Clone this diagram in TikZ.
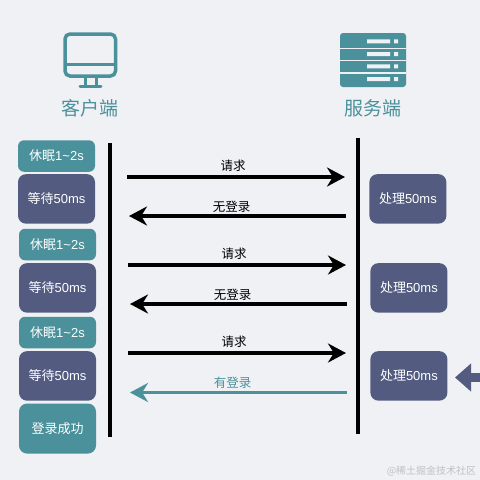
\documentclass[tikz,border=0pt]{standalone}
\usepackage{fontspec}
\setmainfont{Liberation Sans}
\newfontfamily\cjk{Noto Sans CJK SC}
\usetikzlibrary{positioning,arrows.meta}
\definecolor{Teal}{RGB}{74,145,155}
\definecolor{Slate}{RGB}{83,92,128}
\definecolor{Paper}{RGB}{239,241,244}
\definecolor{Mark}{RGB}{190,192,196}
\begin{document}
\begin{tikzpicture}[x=1pt,y=-1pt,
  box/.style={rounded corners=8pt,minimum width=77pt,inner sep=0pt,text=white,font=\fontsize{13}{15}\selectfont},
  rest/.style={box,rounded corners=6pt,fill=Teal,minimum height=31.5pt},
  work/.style={box,fill=Slate,minimum height=49.5pt},
  life/.style={line width=3.5pt},
  arr/.style={-{Stealth[length=18pt,width=19pt]},line width=3.8pt},
  back/.style={arr,Teal},
  lbl/.style={midway,above=3.5pt,xshift=-3pt,inner sep=0pt,font=\fontsize{12.5}{14}\selectfont\cjk},
  reply/.style={lbl,above=2pt,xshift=-3pt},
  title/.style={text=Teal,inner sep=0pt,font=\fontsize{19}{21}\selectfont\cjk}]
\useasboundingbox (0,0) rectangle (480,480);
\clip (0,0) rectangle (480,480);
\fill[Paper] (0,0) rectangle (480,480);
% client icon
\draw[Teal,line width=3.5pt,rounded corners=5pt] (65,34) rectangle (115.5,76);
\draw[Teal,line width=3pt] (65,64.5) -- (115.5,64.5);
\draw[Teal,line width=3pt] (85,76) -- (85,86) (96,76) -- (96,86);
\draw[Teal,line width=3pt,line cap=round] (80,86) -- (101,86);
% server icon
\fill[Teal,rounded corners=3pt] (340,33) rectangle (406,87);
\draw[Paper,line width=1.1pt] (340,48.2) -- (406,48.2) (340,60.7) -- (406,60.7) (340,73) -- (406,73);
\fill[Paper] (367,39.3) rectangle (390,43.3) (367,52) rectangle (390,56) (367,64.3) rectangle (390,68.3) (367,77) rectangle (390,81);
\fill[Paper] (394,39.3) rectangle (398,43.3) (394,52) rectangle (398,56) (394,64.3) rectangle (398,68.3) (394,77) rectangle (398,81);
\node[title] (client) at (90,108) {客户端};
\node[title] (server) at (373,108) {服务端};
% client column
\node[rest] (rest1) at (56.5,156) {{\cjk 休眠}1\textasciitilde 2s};
\node[work,below=2pt of rest1] (wait1) {{\cjk 等待}50ms};
\node[rest] (rest2) at (57.5,244.5) {{\cjk 休眠}1\textasciitilde 2s};
\node[work,below=2.5pt of rest2] (wait2) {{\cjk 等待}50ms};
\node[rest] (rest3) at (57.5,332.5) {{\cjk 休眠}1\textasciitilde 2s};
\node[work,below=2.5pt of rest3] (wait3) {{\cjk 等待}50ms};
\node[box,fill=Teal,minimum height=50pt,below=2.5pt of wait3] (done) {{\cjk 登录成功}};
% server column
\node[work,right=274pt of wait1] (proc1) {{\cjk 处理}50ms};
\node[work,right=274pt of wait2] (proc2) {{\cjk 处理}50ms};
\node[work,right=274pt of wait3] (proc3) {{\cjk 处理}50ms};
% lifelines
\coordinate (cliTop) at (110,143);
\coordinate (cliEnd) at (110,437);
\coordinate (srvTop) at (358,138);
\coordinate (srvEnd) at (358,433.5);
\draw[life] (cliTop) -- (cliEnd);
\draw[life] (srvTop) -- (srvEnd);
% messages
\coordinate (a1) at (127,177); \coordinate (b1) at (345,177);
\coordinate (a2) at (346,216); \coordinate (b2) at (129,216);
\coordinate (a3) at (128,265); \coordinate (b3) at (346,265);
\coordinate (a4) at (347,304); \coordinate (b4) at (130,304);
\coordinate (a5) at (128,353); \coordinate (b5) at (346,353);
\coordinate (a6) at (347,392.5); \coordinate (b6) at (130,392.5);
\draw[arr] (a1) -- node[lbl] (req1) {请求} (b1);
\draw[arr] (a2) -- node[reply] (deny1) {无登录} (b2);
\draw[arr] (a3) -- node[lbl] (req2) {请求} (b3);
\draw[arr] (a4) -- node[reply] (deny2) {无登录} (b4);
\draw[arr] (a5) -- node[lbl] (req3) {请求} (b5);
\draw[back] (a6) -- node[reply,text=Teal] (pass) {有登录} (b6);
% pointer
\coordinate (ptrEnd) at (480,377.5);
\coordinate (ptrTip) at (455,377.5);
\draw[-{Triangle[length=16pt,width=27pt]},Slate,line width=9pt] (ptrEnd) -- (ptrTip);
\node[text=Mark,inner sep=0pt,font=\fontsize{10}{12}\selectfont\cjk] (mark) at (431.5,471) {@稀土掘金技术社区};
\end{tikzpicture}
\end{document}
